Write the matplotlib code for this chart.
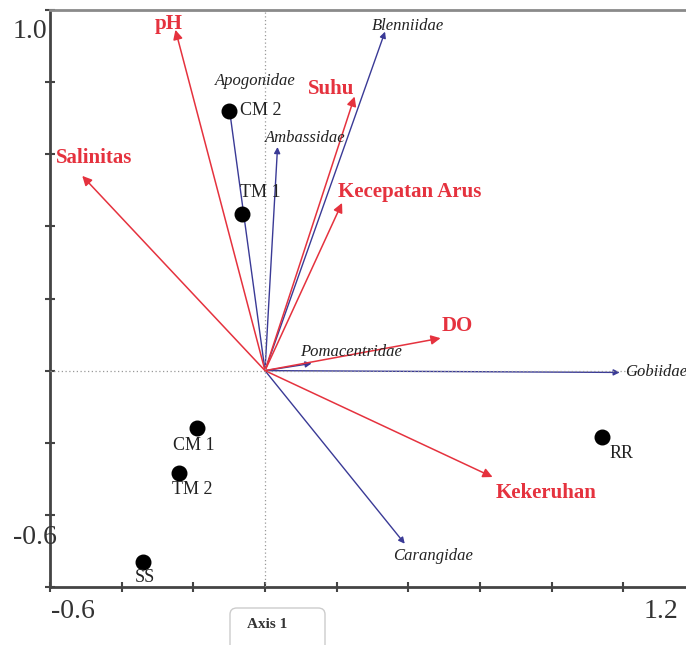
import matplotlib
matplotlib.use('Agg')
import matplotlib.pyplot as plt
from matplotlib.patches import FancyBboxPatch

plt.rcParams['font.family'] = ['Liberation Serif', 'DejaVu Serif']

# sites (sample points)
site_names = ['CM 2', 'TM 1', 'CM 1', 'TM 2', 'SS', 'RR']
site_x = [-0.10, -0.065, -0.19, -0.24, -0.34, 0.94]
site_y = [0.72, 0.435, -0.16, -0.285, -0.53, -0.185]

# environmental variables (red arrows)
env_names = ['pH', 'Salinitas', 'Suhu', 'Kecepatan Arus', 'DO', 'Kekeruhan']
env_x = [-0.25, -0.51, 0.25, 0.215, 0.49, 0.635]
env_y = [0.945, 0.54, 0.76, 0.465, 0.09, -0.295]

# families (blue arrows)
fam_names = ['Blenniidae', 'Apogonidae', 'Ambassidae', 'Pomacentridae', 'Gobiidae', 'Carangidae']
fam_x = [0.335, -0.10, 0.035, 0.13, 0.99, 0.39]
fam_y = [0.94, 0.73, 0.62, 0.02, -0.005, -0.48]

# label offsets in pixels (dx, dy up) and alignment
env_off = [(-7, 6), (12, 18), (-23, 8), (68, 11), (17, 12), (54, -16)]
fam_off = [(23, 6), (26, 26), (28, 9), (39, 11), (5, 0), (28, -12)]
site_off = [(11, 0, 'left'), (-2, 21, 'left'), (-3, -17, 'center'),
            (13, -16, 'center'), (2, -16, 'center'), (20, -16, 'center')]

red = '#e5323e'
blue = '#3a3a96'

fig = plt.figure(figsize=(6.86, 6.45), dpi=100)
W, H = 686.0, 645.0
ax = fig.add_axes([50 / W, 1 - 587 / H, 645 / W, 577 / H])
ax.set_xlim(-0.6, 1.2)
ax.set_ylim(-0.6, 1.0)

ax.axhline(0, color='#999999', ls=(0, (1, 2)), lw=0.9, zorder=4)
ax.axvline(0, color='#999999', ls=(0, (1, 2)), lw=0.9, zorder=4)

for i in range(len(fam_names)):
    ax.annotate('', xy=(fam_x[i], fam_y[i]), xytext=(0, 0),
                arrowprops=dict(arrowstyle='-|>', color=blue, lw=1.0,
                                mutation_scale=9, shrinkA=0, shrinkB=0), zorder=2)
    dx, dy = fam_off[i]
    ax.annotate(fam_names[i], xy=(fam_x[i], fam_y[i]), xytext=(dx, dy),
                textcoords='offset pixels', ha='left' if fam_names[i] == 'Gobiidae' else 'center',
                va='center', fontsize=12, style='italic', color='#222222', zorder=6)

for i in range(len(env_names)):
    ax.annotate('', xy=(env_x[i], env_y[i]), xytext=(0, 0),
                arrowprops=dict(arrowstyle='-|>', color=red, lw=1.1,
                                mutation_scale=14, shrinkA=0, shrinkB=0), zorder=3)
    dx, dy = env_off[i]
    ax.annotate(env_names[i], xy=(env_x[i], env_y[i]), xytext=(dx, dy),
                textcoords='offset pixels', ha='center', va='center',
                fontsize=15, fontweight='bold', color=red, zorder=6)

ax.scatter(site_x, site_y, s=110, color='black', zorder=5)
for i in range(len(site_names)):
    dx, dy, ha = site_off[i]
    ax.annotate(site_names[i], xy=(site_x[i], site_y[i]), xytext=(dx, dy),
                textcoords='offset pixels', ha=ha, va='center',
                fontsize=13, color='#222222', zorder=6)

ax.spines['right'].set_visible(False)
ax.spines['top'].set_color('#8a8a8a')
ax.spines['top'].set_linewidth(2)
ax.spines['left'].set_color('#444444')
ax.spines['left'].set_linewidth(2)
ax.spines['bottom'].set_color('#444444')
ax.spines['bottom'].set_linewidth(2)
ax.set_xticks([-0.6, -0.4, -0.2, 0, 0.2, 0.4, 0.6, 0.8, 1.0])
ax.set_yticks([-0.6, -0.4, -0.2, 0, 0.2, 0.4, 0.6, 0.8, 1.0])
ax.tick_params(direction='inout', length=7, width=1.5, color='#444444',
               labelbottom=False, labelleft=False)

# corner tick labels like the original
fig.text(30 / W, 1 - 31 / H, '1.0', fontsize=20, color='#333333', ha='center', va='center')
fig.text(35 / W, 1 - 537 / H, '-0.6', fontsize=20, color='#333333', ha='center', va='center')
fig.text(73 / W, 1 - 612 / H, '-0.6', fontsize=20, color='#333333', ha='center', va='center')
fig.text(661 / W, 1 - 612 / H, '1.2', fontsize=20, color='#333333', ha='center', va='center')

box = FancyBboxPatch((230 / W, -0.02), 95 / W, 1 - 608 / H + 0.02,
                     boxstyle='round,pad=0,rounding_size=0.01', transform=fig.transFigure,
                     facecolor='white', edgecolor='#cccccc', lw=1)
fig.patches.append(box)
fig.text(267 / W, 1 - 625 / H, 'Axis 1', fontsize=11, fontweight='bold', color='#333333',
         ha='center', va='center')

fig.savefig('out.png', dpi=100)
